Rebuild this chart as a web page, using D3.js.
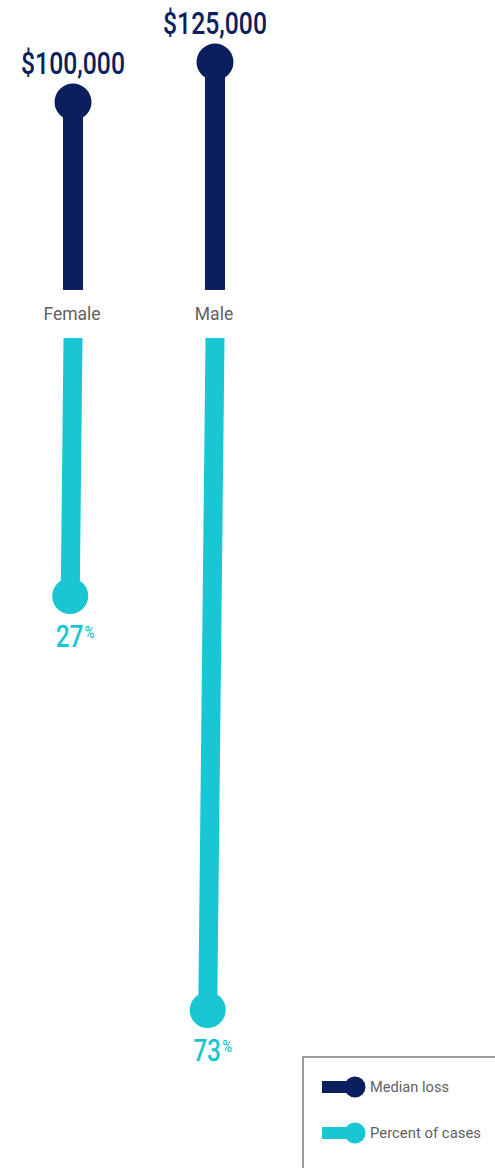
<!DOCTYPE html>
<html>
<head>
<meta charset="utf-8">
<script src="https://cdn.jsdelivr.net/npm/d3@7"></script>
<style>
  body { margin: 0; background: #fff; }
  text { font-family: Roboto, "Noto Sans", sans-serif; }
</style>
</head>
<body>
<div id="d3-container"></div>
<script>
const width = 495,
    height = 1168;

// data
const genders = ["Female", "Male"];
const medianLoss = [100000, 125000];
const percentCases = [27, 73];
const legendKeys = ["Median loss", "Percent of cases"];

const navy = "#0b1f5e",
    cyan = "#19c6d3",
    gray = "#5f5f5f";

const svg = d3.select("#d3-container")
    .append("svg")
    .attr("width", width)
    .attr("height", height);

const x = d3.scalePoint().domain(genders).range([73, 215]);

// top half: median loss, growing upward from the label row
const lossBase = 290;
const yLoss = d3.scaleLinear().domain([0, 125000]).range([262, 62]);

// bottom half: percent of cases, growing downward
const pctBase = 338;
const yPct = d3.scaleLinear().domain([0, 73]).range([353, 1010]);

const fmt = d3.format("$,");

const loss = svg.append("g");
genders.forEach((g, i) => {
    const cx = x(g), cy = yLoss(medianLoss[i]);
    loss.append("rect")
        .attr("x", cx - 10).attr("width", 20)
        .attr("y", cy).attr("height", lossBase - cy)
        .attr("fill", navy);
    loss.append("circle")
        .attr("cx", cx).attr("cy", cy).attr("r", 18.5)
        .attr("fill", navy);
    loss.append("text")
        .attr("x", cx).attr("y", cy - 28)
        .attr("text-anchor", "middle")
        .attr("textLength", 104)
        .attr("lengthAdjust", "spacingAndGlyphs")
        .style("font-size", "31px")
        .style("font-weight", 500)
        .style("fill", navy)
        .text(fmt(medianLoss[i]));
    svg.append("text")
        .attr("x", cx - 1).attr("y", 320)
        .attr("text-anchor", "middle")
        .style("font-size", "17.5px")
        .style("fill", gray)
        .text(g);
});

// slight lean of the lower stems, as in the source picture
const pct = svg.append("g")
    .attr("transform", `translate(0,${pctBase}) skewX(-0.62) translate(0,${-pctBase})`);
genders.forEach((g, i) => {
    const cx = x(g), cy = yPct(percentCases[i]);
    pct.append("rect")
        .attr("x", cx - 9.5).attr("width", 19)
        .attr("y", pctBase).attr("height", cy - pctBase)
        .attr("fill", cyan);
    pct.append("circle")
        .attr("cx", cx).attr("cy", cy).attr("r", 18)
        .attr("fill", cyan);
    // condensed value label: big number with a small raised percent sign
    const t = pct.append("text")
        .attr("transform", `translate(${cx - 14},${cy + 51}) scale(0.78,1)`)
        .style("font-weight", 500)
        .style("fill", cyan);
    t.append("tspan")
        .style("font-size", "31px")
        .text(percentCases[i]);
    t.append("tspan")
        .attr("dx", 2)
        .attr("dy", -9)
        .style("font-size", "17px")
        .text("%");
});

// legend
svg.append("rect")
    .attr("x", 303).attr("y", 1057)
    .attr("width", 220).attr("height", 150)
    .attr("fill", "#fff")
    .attr("stroke", "#9a9a9a")
    .attr("stroke-width", 2);

const legendColor = d3.scaleOrdinal().domain(legendKeys).range([navy, cyan]);
const legendY = d3.scalePoint().domain(legendKeys).range([1087, 1133]);

legendKeys.forEach(k => {
    const ly = legendY(k);
    svg.append("rect")
        .attr("x", 322).attr("y", ly - 6)
        .attr("width", 33).attr("height", 12)
        .attr("fill", legendColor(k));
    svg.append("circle")
        .attr("cx", 355).attr("cy", ly).attr("r", 10.5)
        .attr("fill", legendColor(k));
    svg.append("text")
        .attr("x", 370).attr("y", ly + 5)
        .attr("textLength", k === "Median loss" ? 79 : 111)
        .attr("lengthAdjust", "spacingAndGlyphs")
        .style("font-size", "14px")
        .style("fill", gray)
        .text(k);
});
</script>
</body>
</html>
